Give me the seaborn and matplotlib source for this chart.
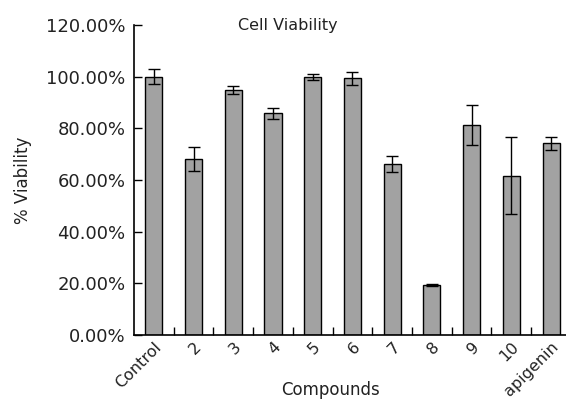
import numpy as np
import pandas as pd
import matplotlib
matplotlib.use("Agg")
import matplotlib.pyplot as plt
import seaborn as sns
from matplotlib.ticker import FuncFormatter, FixedLocator

# Data
compounds = ['Control', '2', '3', '4', '5', '6', '7', '8', '9', '10', 'apigenin']
viability = [100.0, 68.1, 94.8, 85.8, 99.9, 99.4, 66.2, 19.4, 81.3, 61.7, 74.2]
errors = [3.0, 4.6, 1.6, 2.2, 1.0, 2.5, 3.0, 0.5, 7.6, 15.0, 2.5]

df = pd.DataFrame({'Compounds': compounds, 'Viability': viability})

sns.set_style('white')
plt.rcParams['font.family'] = ['DejaVu Sans']

fig = plt.figure(figsize=(5.66, 4.01), dpi=100)
ax = fig.add_axes([0.2367, 0.1646, 0.772, 0.773])

sns.barplot(data=df, x='Compounds', y='Viability', color='#a2a2a2', saturation=1,
            width=0.43, edgecolor='black', linewidth=1.0, errorbar=None, ax=ax)
ax.errorbar(np.arange(len(compounds)), viability, yerr=errors, fmt='none',
            ecolor='black', elinewidth=1.0, capsize=4, capthick=1.0)

ax.set_xlim(-0.5, len(compounds) - 0.5)
ax.set_ylim(0, 120)
ax.set_yticks(np.arange(0, 121, 20))
ax.yaxis.set_major_formatter(FuncFormatter(lambda v, p: f'{v:.2f}%'))

ax.xaxis.set_minor_locator(FixedLocator(np.arange(0.5, len(compounds) - 1, 1.0)))
ax.tick_params(axis='x', which='major', length=0, labelsize=11.5, pad=3)
ax.tick_params(axis='x', which='minor', direction='in', length=6, width=1, color='black', bottom=True)
ax.tick_params(axis='y', direction='in', length=6, width=1, color='black', left=True,
               labelsize=13, pad=6, labelcolor='#222222')
plt.setp(ax.get_xticklabels(), rotation=45, ha='right', rotation_mode='anchor', color='#222222')

for s in ['top', 'right']:
    ax.spines[s].set_visible(False)
for s in ['left', 'bottom']:
    ax.spines[s].set_color('black')
    ax.spines[s].set_linewidth(1.2)

ax.set_xlabel('Compounds', fontsize=12, color='#222222')
ax.xaxis.set_label_coords(0.449, -0.148)
ax.set_ylabel('% Viability', fontsize=12, color='#222222', labelpad=10)
fig.text(0.509, 0.925, 'Cell Viability', ha='center', va='baseline',
         fontsize=11.5, color='#222222')

fig.savefig('out.png', dpi=100)
